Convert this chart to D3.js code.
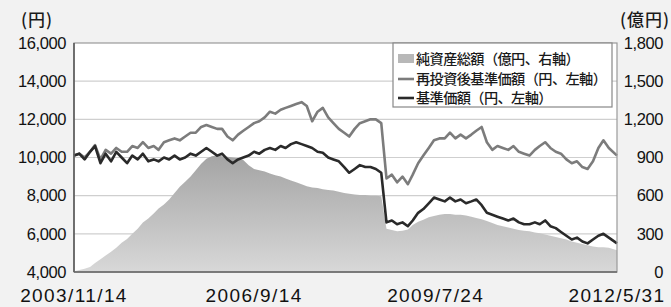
<!DOCTYPE html>
<html>
<head>
<meta charset="utf-8">
<script src="https://cdn.jsdelivr.net/npm/d3@7"></script>
<style>
  body { margin: 0; background: #f2f2f2; }
  svg { display: block; }
</style>
</head>
<body>
<div id="chart"></div>
<script>
// monthly points, first = 2003/11/14, last = 2012/5/31
const startDate = "2003/11/14";
const endDate = "2012/5/31";
const xTickLabels = ["2003/11/14", "2006/9/14", "2009/7/24", "2012/5/31"];
const leftTicks = [4000, 6000, 8000, 10000, 12000, 14000, 16000];
const rightTicks = [0, 300, 600, 900, 1200, 1500, 1800];
const legendLabels = ["純資産総額（億円、右軸）", "再投資後基準価額（円、左軸）", "基準価額（円、左軸）"];

// 基準価額 (円)
const basePrice = [
  10100, 10200, 9900, 10300, 10600, 9700, 10200, 9800, 10300, 10000,
  9700, 10100, 9900, 10200, 9800, 9900, 9800, 10000, 9900, 10100,
  9900, 10000, 10200, 10100, 10300, 10500, 10300, 10100, 10200, 9900,
  9700, 9900, 10000, 10100, 10300, 10200, 10400, 10500, 10400, 10600,
  10500, 10700, 10800, 10700, 10600, 10500, 10300, 10250, 10000, 9900,
  9800, 9500, 9200, 9400, 9600, 9500, 9500, 9400, 9200, 6600,
  6700, 6500, 6600, 6400, 6700, 7100, 7300, 7600, 7900, 7800,
  7700, 7900, 7700, 7800, 7600, 7700, 7800, 7500, 7100, 7000,
  6900, 6800, 6700, 6800, 6600, 6500, 6500, 6600, 6500, 6700,
  6400, 6300, 6100, 5900, 5700, 5800, 5600, 5500, 5700, 5900,
  6000, 5800, 5500
];

// 再投資後基準価額 (円)
const reinvPrice = [
  10100, 10200, 10000, 10300, 10650, 9900, 10400, 10200, 10500, 10300,
  10300, 10600, 10500, 10800, 10500, 10600, 10400, 10800, 10900, 11000,
  10900, 11100, 11300, 11300, 11600, 11700, 11600, 11500, 11500, 11100,
  10900, 11200, 11400, 11600, 11800, 11900, 12100, 12400, 12300, 12500,
  12600, 12700, 12800, 12900, 12700, 11900, 12400, 12600, 12100, 11800,
  11500, 11300, 11100, 11500, 11800, 11900, 12000, 12000, 11800, 8900,
  9100, 8700, 9000, 8600, 9100, 9700, 10100, 10500, 10900, 11000,
  11000, 11300, 11000, 11200, 11000, 11200, 11400, 11600, 10800, 10400,
  10600, 10500, 10400, 10600, 10300, 10200, 10100, 10400, 10600, 10800,
  10500, 10300, 10200, 9900, 9700, 9800, 9500, 9400, 9800, 10500,
  10900, 10500, 10100
];

// 純資産総額 (億円)
const netAssets = [
  5, 15, 25, 40, 70, 100, 130, 160, 190, 230,
  260, 300, 340, 390, 420, 460, 500, 530, 570, 620,
  670, 710, 750, 800, 850, 890, 910, 915, 910, 905,
  900, 895, 880, 840, 810, 800, 790, 775, 760, 750,
  735, 720, 705, 690, 675, 665, 660, 650, 645, 640,
  630, 620, 615, 610, 605, 605, 600, 600, 595, 340,
  330, 320, 325, 335, 370, 395, 410, 430, 440, 450,
  455, 455, 450, 450, 445, 435, 425, 415, 400, 385,
  370, 360, 350, 340, 330, 325, 320, 310, 305, 295,
  285, 275, 265, 255, 240, 230, 220, 210, 200, 195,
  195, 190, 170
];

const width = 671, height = 307;
const margin = { left: 74, right: 54, top: 43, bottom: 35 };

const parseDate = d3.timeParse("%Y/%m/%d");
const t0 = parseDate(startDate), t1 = parseDate(endDate);
const dates = basePrice.map((_, i) => i === basePrice.length - 1 ? t1 : d3.timeMonth.offset(t0, i));

const svg = d3.select("#chart").append("svg")
  .attr("width", width)
  .attr("height", height);

const x = d3.scaleTime().domain([t0, t1]).range([margin.left, width - margin.right]);
const yL = d3.scaleLinear().domain([4000, 16000]).range([height - margin.bottom, margin.top]);
const yR = d3.scaleLinear().domain([0, 1800]).range([height - margin.bottom, margin.top]);

// plot background
svg.append("rect")
  .attr("x", margin.left).attr("y", margin.top)
  .attr("width", width - margin.left - margin.right)
  .attr("height", height - margin.top - margin.bottom)
  .attr("fill", "#fff");

// gridlines
svg.append("g").selectAll("line")
  .data(leftTicks.slice(1, -1))
  .join("line")
  .attr("x1", margin.left).attr("x2", width - margin.right)
  .attr("y1", d => yL(d)).attr("y2", d => yL(d))
  .attr("stroke", "#cfcfcf").attr("stroke-width", 1.2);

// area gradient
const defs = svg.append("defs");
const grad = defs.append("linearGradient")
  .attr("id", "areaGrad")
  .attr("gradientUnits", "userSpaceOnUse")
  .attr("x1", 0).attr("x2", 0)
  .attr("y1", yR(950)).attr("y2", yR(0));
grad.append("stop").attr("offset", "0%").attr("stop-color", "#a2a2a2");
grad.append("stop").attr("offset", "100%").attr("stop-color", "#d8d8d8");

const area = d3.area()
  .x((d, i) => x(dates[i]))
  .y0(yR(0))
  .y1(d => yR(d));

svg.append("path")
  .datum(netAssets)
  .attr("d", area)
  .attr("fill", "url(#areaGrad)");

const lineL = d3.line()
  .x((d, i) => x(dates[i]))
  .y(d => yL(d));

svg.append("path")
  .datum(reinvPrice)
  .attr("d", lineL)
  .attr("fill", "none")
  .attr("stroke", "#7c7c7c")
  .attr("stroke-width", 2.6)
  .attr("stroke-linejoin", "round");

svg.append("path")
  .datum(basePrice)
  .attr("d", lineL)
  .attr("fill", "none")
  .attr("stroke", "#2a2a2a")
  .attr("stroke-width", 2.6)
  .attr("stroke-linejoin", "round");

// frame
svg.append("rect")
  .attr("x", margin.left).attr("y", margin.top)
  .attr("width", width - margin.left - margin.right)
  .attr("height", height - margin.top - margin.bottom)
  .attr("fill", "none")
  .attr("stroke", "#999")
  .attr("stroke-width", 1.2);
svg.append("line")
  .attr("x1", margin.left).attr("x2", margin.left)
  .attr("y1", margin.top).attr("y2", height - margin.bottom)
  .attr("stroke", "#555").attr("stroke-width", 1.5);
svg.append("line")
  .attr("x1", margin.left).attr("x2", width - margin.right)
  .attr("y1", height - margin.bottom).attr("y2", height - margin.bottom)
  .attr("stroke", "#666").attr("stroke-width", 1.5);

// axes
const fmt = d3.format(",");
const axisFont = "'Liberation Sans', Arial, sans-serif";

const left = svg.append("g")
  .attr("transform", `translate(${margin.left - 8},0)`)
  .call(d3.axisLeft(yL).tickValues(leftTicks).tickFormat(fmt).tickSize(0).tickPadding(0));
left.select(".domain").remove();
left.selectAll("text")
  .attr("font-family", axisFont).attr("font-size", 16.5)
  .attr("letter-spacing", -0.4).attr("fill", "#111");

const right = svg.append("g")
  .attr("transform", `translate(${width - 8},0)`)
  .call(d3.axisLeft(yR).tickValues(rightTicks).tickFormat(fmt).tickSize(0).tickPadding(0));
right.select(".domain").remove();
right.selectAll("text")
  .attr("font-family", axisFont).attr("font-size", 16.5)
  .attr("letter-spacing", -0.4).attr("fill", "#111");

svg.append("g").selectAll("text")
  .data(xTickLabels)
  .join("text")
  .attr("x", d => x(parseDate(d)))
  .attr("y", 302)
  .attr("text-anchor", "middle")
  .attr("font-family", axisFont)
  .attr("font-size", 19)
  .attr("letter-spacing", 1.4)
  .attr("fill", "#111")
  .text(d => d);

// unit labels
const cjkFont = "'Noto Sans CJK JP', sans-serif";
svg.append("text")
  .attr("x", 21).attr("y", 26)
  .attr("font-family", cjkFont).attr("font-size", 17)
  .attr("font-weight", 500)
  .attr("letter-spacing", 1)
  .attr("fill", "#1a1a1a")
  .text("(円)");
svg.append("text")
  .attr("x", 670).attr("y", 26)
  .attr("text-anchor", "end")
  .attr("font-family", cjkFont).attr("font-size", 17)
  .attr("font-weight", 500)
  .attr("letter-spacing", 1)
  .attr("fill", "#1a1a1a")
  .text("(億円)");

// legend
const lg = svg.append("g");
lg.append("rect")
  .attr("x", 393).attr("y", 43)
  .attr("width", 219).attr("height", 64)
  .attr("fill", "#fff")
  .attr("stroke", "#888")
  .attr("stroke-width", 1.2);

const rowY = [59, 79, 98];
lg.append("rect")
  .attr("x", 398).attr("y", rowY[0] - 5)
  .attr("width", 16).attr("height", 9)
  .attr("fill", "#b8b8b8");
lg.append("line")
  .attr("x1", 398).attr("x2", 414)
  .attr("y1", rowY[1]).attr("y2", rowY[1])
  .attr("stroke", "#7c7c7c").attr("stroke-width", 2.6);
lg.append("line")
  .attr("x1", 398).attr("x2", 414)
  .attr("y1", rowY[2]).attr("y2", rowY[2])
  .attr("stroke", "#2a2a2a").attr("stroke-width", 2.6);

lg.selectAll("text.leg")
  .data(legendLabels)
  .join("text")
  .attr("class", "leg")
  .attr("x", 416)
  .attr("y", (d, i) => rowY[i])
  .attr("dy", "0.36em")
  .attr("font-family", cjkFont)
  .attr("font-size", 14.2)
  .attr("font-weight", 500)
  .attr("letter-spacing", -0.6)
  .attr("fill", "#1a1a1a")
  .text(d => d);
</script>
</body>
</html>
